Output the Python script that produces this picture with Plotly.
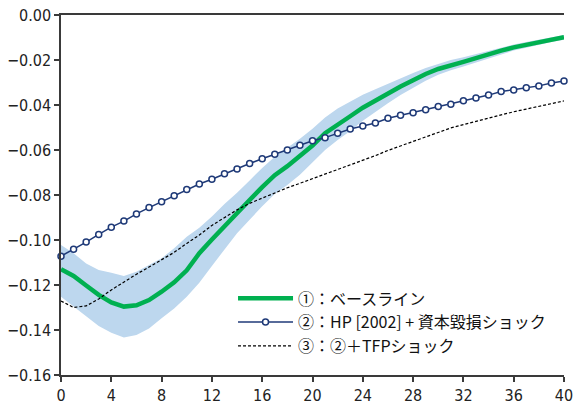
import plotly.graph_objects as go

quarters = list(range(0, 41))

baseline = [-0.1130, -0.1160, -0.1202, -0.1244, -0.1277, -0.1296, -0.1290, -0.1267, -0.1230, -0.1188,
            -0.1135, -0.1059, -0.0998, -0.0937, -0.0880, -0.0822, -0.0765, -0.0712, -0.0672, -0.0629,
            -0.0580, -0.0525, -0.0485, -0.0450, -0.0412, -0.0380, -0.0348, -0.0318, -0.0290, -0.0262,
            -0.0240, -0.0222, -0.0208, -0.0192, -0.0174, -0.0158, -0.0144, -0.0132, -0.0120, -0.0109,
            -0.0099]

band_upper = [-0.1022, -0.1059, -0.1104, -0.1133, -0.1145, -0.1160, -0.1141, -0.1111, -0.1081, -0.1037,
              -0.0985, -0.0945, -0.0895, -0.0840, -0.0790, -0.0735, -0.0680, -0.0630, -0.0590, -0.0550,
              -0.0505, -0.0455, -0.0415, -0.0385, -0.0355, -0.0330, -0.0305, -0.0280, -0.0258, -0.0235,
              -0.0216, -0.0200, -0.0188, -0.0174, -0.0158, -0.0144, -0.0131, -0.0120, -0.0109, -0.0099,
              -0.0089]

band_lower = [-0.1252, -0.1296, -0.1340, -0.1382, -0.1412, -0.1433, -0.1422, -0.1393, -0.1348, -0.1304,
              -0.1252, -0.1190, -0.1115, -0.1040, -0.0970, -0.0910, -0.0850, -0.0795, -0.0755, -0.0710,
              -0.0655, -0.0600, -0.0555, -0.0515, -0.0470, -0.0430, -0.0392, -0.0356, -0.0324, -0.0292,
              -0.0266, -0.0245, -0.0229, -0.0211, -0.0191, -0.0173, -0.0158, -0.0145, -0.0132, -0.0120,
              -0.0110]

hp_capital = [-0.1072, -0.1041, -0.1009, -0.0975, -0.0943, -0.0916, -0.0884, -0.0856, -0.0830, -0.0803,
              -0.0776, -0.0751, -0.0730, -0.0706, -0.0684, -0.0660, -0.0639, -0.0619, -0.0600, -0.0579,
              -0.0559, -0.0545, -0.0526, -0.0507, -0.0493, -0.0480, -0.0459, -0.0446, -0.0434, -0.0421,
              -0.0407, -0.0397, -0.0381, -0.0369, -0.0356, -0.0340, -0.0333, -0.0323, -0.0315, -0.0302,
              -0.0293]

tfp_shock = [-0.1271, -0.1300, -0.1293, -0.1262, -0.1222, -0.1185, -0.1152, -0.1120, -0.1088, -0.1055,
             -0.1015, -0.0978, -0.0935, -0.0902, -0.0866, -0.0837, -0.0813, -0.0790, -0.0768, -0.0748,
             -0.0728, -0.0707, -0.0688, -0.0668, -0.0648, -0.0625, -0.0602, -0.0582, -0.0562, -0.0543,
             -0.0522, -0.0502, -0.0487, -0.0472, -0.0458, -0.0443, -0.0430, -0.0418, -0.0406, -0.0394,
             -0.0382]

series_names = ["①：ベースライン", "②：HP [2002] + 資本毀損ショック", "③：②＋TFPショック"]
x_ticks = list(range(0, 41, 4))
y_ticks = [-0.16, -0.14, -0.12, -0.10, -0.08, -0.06, -0.04, -0.02, 0.00]

GREEN = "#00B050"
BAND = "#BDD7EE"
NAVY = "#1F3A78"
AXIS = "#3a3a3a"

fig = go.Figure()

fig.add_trace(go.Scatter(x=quarters, y=band_upper, mode="lines", line=dict(width=0, color=BAND),
                         showlegend=False, hoverinfo="skip"))
fig.add_trace(go.Scatter(x=quarters, y=band_lower, mode="lines", line=dict(width=0, color=BAND),
                         fill="tonexty", fillcolor=BAND, showlegend=False, hoverinfo="skip"))

fig.add_trace(go.Scatter(x=quarters, y=baseline, mode="lines", name=series_names[0],
                         line=dict(color=GREEN, width=4.5), cliponaxis=False))
fig.add_trace(go.Scatter(x=quarters, y=hp_capital, mode="lines+markers", name=series_names[1],
                         line=dict(color=NAVY, width=1.5),
                         marker=dict(symbol="circle", size=6, color="white",
                                     line=dict(color=NAVY, width=1.5)),
                         cliponaxis=False))
fig.add_trace(go.Scatter(x=quarters, y=tfp_shock, mode="lines", name=series_names[2],
                         line=dict(color="black", width=1.2, dash="3px,2px"), cliponaxis=False))

tick_font = dict(family="Liberation Sans Narrow, DejaVu Sans Condensed, Noto Sans, sans-serif",
                 size=16, color="#222")

fig.update_layout(
    width=574, height=407,
    margin=dict(l=61, r=10, t=15, b=32),
    paper_bgcolor="white", plot_bgcolor="white",
    showlegend=True,
    legend=dict(x=0.342, y=0.26, xanchor="left", yanchor="top",
                bgcolor="rgba(0,0,0,0)", borderwidth=0, traceorder="normal",
                font=dict(family="Noto Sans CJK JP", size=16, color="#111"),
                itemwidth=55, tracegroupgap=0),
    xaxis=dict(range=[0, 40], tickmode="array", tickvals=x_ticks,
               ticktext=[str(v) for v in x_ticks], automargin=False,
               showgrid=False, zeroline=False, showline=True, linecolor=AXIS, linewidth=1.5,
               mirror=True, ticks="outside", ticklen=5, tickwidth=1.5, tickcolor=AXIS,
               tickfont=tick_font),
    yaxis=dict(range=[-0.16, 0], tickmode="array", tickvals=y_ticks,
               tickformat=".2f", automargin=False,
               showgrid=False, zeroline=False, showline=True, linecolor=AXIS, linewidth=1.5,
               ticks="outside", ticklen=5, tickwidth=1.5, tickcolor=AXIS,
               tickfont=tick_font),
)

fig.write_html("out.html")
